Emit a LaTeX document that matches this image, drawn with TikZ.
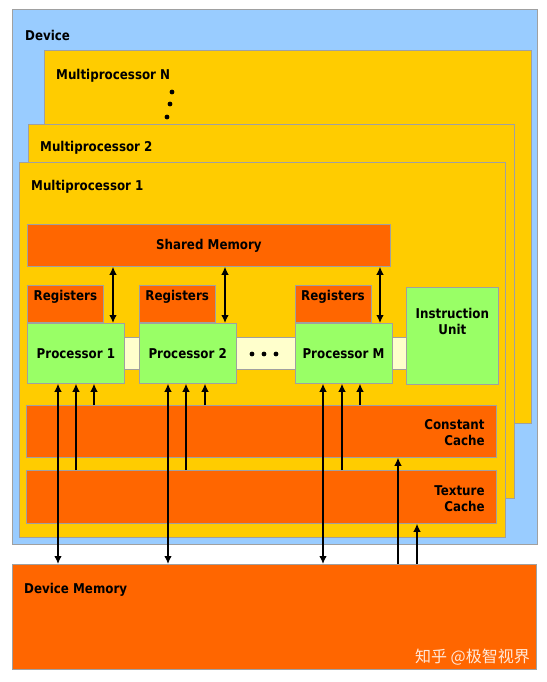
\documentclass[tikz,border=0pt]{standalone}
\usepackage{fontspec}
\setmainfont{DejaVu Sans}[FakeStretch=0.88]
\newfontfamily\cjkfont{Noto Sans CJK SC}
\usetikzlibrary{arrows.meta,positioning,calc}
\definecolor{devblue}{HTML}{99CCFF}
\definecolor{mpyellow}{HTML}{FFCC00}
\definecolor{memorange}{HTML}{FF6600}
\definecolor{procgreen}{HTML}{99FF66}
\definecolor{barcream}{HTML}{FFFFCC}
\definecolor{edgegray}{HTML}{A0A0A0}

\begin{document}
\begin{tikzpicture}[x=1pt,y=-1pt,
	box/.style={draw=edgegray, line width=0.8pt, inner sep=0pt, anchor=north west},
	txt/.style={font=\bfseries\fontsize{13.5}{16}\selectfont, inner sep=0pt},
	arr/.style={line width=1.3pt, -{Latex[length=8pt,width=7.5pt]}},
	dblarr/.style={line width=1.3pt, {Latex[length=8pt,width=7.5pt]}-{Latex[length=8pt,width=7.5pt]}}]
	\fill[white] (0,0) rectangle (546,682);
	\useasboundingbox (0,0) rectangle (546,682);
	% device and multiprocessors
	\node[box, fill=devblue, minimum width=525pt, minimum height=535pt] (dev) at (12,9) {};
	\node[box, fill=mpyellow, minimum width=487pt, minimum height=373pt] (mpn) at (44,50) {};
	\node[box, fill=mpyellow, minimum width=486pt, minimum height=374pt] (mp2) at (28,124) {};
	\node[box, fill=mpyellow, minimum width=486pt, minimum height=375pt] (mp1) at (19,162) {};
	\node[txt, anchor=west] (devt) at (25,35) {Device};
	\node[txt, anchor=west] (mpnt) at (56,76) {Multiprocessor N};
	\node[txt, anchor=west] (mp2t) at (40,148) {Multiprocessor 2};
	\node[txt, anchor=west] (mp1t) at (31,187) {Multiprocessor 1};
	\fill (172,92) circle (2.4pt) (170,104) circle (2.4pt) (167,117) circle (2.4pt);
	%
	\node[box, fill=memorange, minimum width=363pt, minimum height=42pt, txt] (sm) at (27,224) {Shared Memory};
	\node[box, fill=barcream, minimum width=282pt, minimum height=32pt] (bar) at (124,337) {};
	\node[box, fill=procgreen, minimum width=97pt, minimum height=60pt, txt] (p1) at (27,323) {Processor 1};
	\node[box, fill=procgreen, minimum width=97pt, minimum height=60pt, txt, right=14pt of p1] (p2) {Processor 2};
	\node[box, fill=procgreen, minimum width=97pt, minimum height=60pt, txt, right=58pt of p2] (pm) {Processor M};
	\fill (252,354) circle (2.4pt) (264,354) circle (2.4pt) (276,354) circle (2.4pt);
	\foreach \p in {p1,p2,pm} {
		\node[box, fill=memorange, minimum width=76pt, minimum height=37pt, above right=0pt and 0pt of \p.north west] (r\p) {};
		\node[txt, anchor=north] (rt\p) at ([yshift=-5pt]r\p.north) {Registers};
	}
	\node[box, fill=procgreen, minimum width=92pt, minimum height=97pt] (iu) at (406,287) {};
	\node[txt, align=center] (iut) at ([yshift=-34pt]iu.north) {Instruction\\Unit};
	%
	\node[box, fill=memorange, minimum width=470pt, minimum height=52pt] (cc) at (26,405) {};
	\node[txt, align=right, anchor=east] (cct) at ([xshift=-12pt,yshift=-1pt]cc.east) {Constant\\Cache};
	\node[box, fill=memorange, minimum width=470pt, minimum height=53pt] (tc) at (26,470) {};
	\node[txt, align=right, anchor=east] (tct) at ([xshift=-12pt,yshift=-2pt]tc.east) {Texture\\Cache};
	\node[box, fill=memorange, minimum width=524pt, minimum height=105pt] (dmem) at (12,564) {};
	\node[txt, anchor=west] (dmemt) at (24,590) {Device Memory};
	\node[anchor=east, inner sep=0pt, text=white, opacity=0.85, font=\cjkfont\fontsize{16}{16}\selectfont] (wm) at (530,657) {知乎 @极智视界};
	% connectors
	\foreach \p/\x in {p1/113, p2/225, pm/380}
		\draw[dblarr] (sm.south -| \x,0) -- (\p.north -| \x,0);
	\foreach \p/\a/\b/\c in {p1/58/76/94, p2/168/186/205, pm/323/342/360} {
		\draw[dblarr] (dmem.north -| \a,0) -- (\p.south -| \a,0);
		\draw[arr] (tc.north -| \b,0) -- (\p.south -| \b,0);
		\draw[arr] (cc.north -| \c,0) -- (\p.south -| \c,0);
	}
	\draw[arr] (dmem.north -| 398,0) -- (cc.south -| 398,0);
	\draw[arr] (dmem.north -| 417,0) -- (tc.south -| 417,0);
\end{tikzpicture}
\end{document}
